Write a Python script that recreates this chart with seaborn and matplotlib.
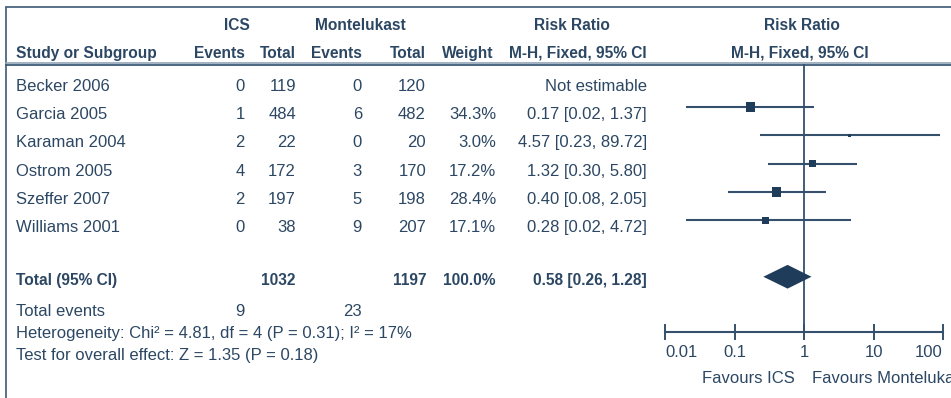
import matplotlib
matplotlib.use("Agg")
import matplotlib.pyplot as plt
from matplotlib import font_manager
import seaborn as sns
import pandas as pd

# ---- data -------------------------------------------------------------
studies = ["Becker 2006", "Garcia 2005", "Karaman 2004", "Ostrom 2005",
           "Szeffer 2007", "Williams 2001"]
ics_events = [0, 1, 2, 4, 2, 0]
ics_total = [119, 484, 22, 172, 197, 38]
mon_events = [0, 6, 0, 3, 5, 9]
mon_total = [120, 482, 20, 170, 198, 207]
weights = [None, 34.3, 3.0, 17.2, 28.4, 17.1]
rr = [None, 0.17, 4.57, 1.32, 0.40, 0.28]
ci_low = [None, 0.02, 0.23, 0.30, 0.08, 0.02]
ci_high = [None, 1.37, 89.72, 5.80, 2.05, 4.72]

total_ics = 1032
total_mon = 1197
total_weight = 100.0
total_rr = 0.58
total_low = 0.26
total_high = 1.28
events_ics = 9
events_mon = 23
heterogeneity = "Heterogeneity: Chi\u00b2 = 4.81, df = 4 (P = 0.31); I\u00b2 = 17%"
overall_effect = "Test for overall effect: Z = 1.35 (P = 0.18)"

axis_ticks = [0.01, 0.1, 1, 10, 100]
axis_tick_labels = ["0.01", "0.1", "1", "10", "100"]
favours_left = "Favours ICS"
favours_right = "Favours Montelukast"

# ---- style ------------------------------------------------------------
sns.set_theme(style="white")
names = {f.name for f in font_manager.fontManager.ttflist}
if "Liberation Sans Narrow" in names:
    FAMILY, FS, FSB = ["Liberation Sans Narrow", "DejaVu Sans"], 14.0, 13.5
else:
    FAMILY, FS, FSB = ["Liberation Sans", "DejaVu Sans"], 12.0, 11.2
plt.rcParams["font.family"] = FAMILY

TEXT = "#2c4763"
LINE = "#34506d"
MARK = "#1f3c5a"

W, H = 951, 398
fig = plt.figure(figsize=(W / 100, H / 100), dpi=100)

# table layer in pixel units
tab = fig.add_axes([0, 0, 1, 1])
tab.set_xlim(0, W)
tab.set_ylim(H, 0)
tab.axis("off")


def txt(x, y, s, ha="right", bold=False):
    tab.text(x, y, s, ha=ha, va="baseline", color=TEXT,
             fontsize=FSB if bold else FS,
             fontweight="bold" if bold else "normal", family=FAMILY)


# frame and header rules
tab.plot([6, W], [6.5, 6.5], color="#4d6680", lw=1.3)
tab.plot([6, 6], [6.5, H], color="#4d6680", lw=1.3)
tab.plot([6, W], [62.5, 62.5], color="#9aabbb", lw=1.3)
tab.plot([6, W], [65, 65], color="#3d5a78", lw=1.3)

# column anchors
X_NAME, X_IE, X_IT, X_ME, X_MT, X_W, X_RR = 16, 245, 296, 362, 426, 496, 647

# headers
txt(237, 30, "ICS", ha="center", bold=True)
txt(360, 30, "Montelukast", ha="center", bold=True)
txt(572, 30, "Risk Ratio", ha="center", bold=True)
txt(802, 30, "Risk Ratio", ha="center", bold=True)
txt(X_NAME, 58, "Study or Subgroup", ha="left", bold=True)
txt(X_IE, 58, "Events", bold=True)
txt(X_IT, 58, "Total", bold=True)
txt(X_ME, 58, "Events", bold=True)
txt(X_MT, 58, "Total", bold=True)
txt(493, 58, "Weight", bold=True)
txt(X_RR, 58, "M-H, Fixed, 95% CI", bold=True)
txt(800, 58, "M-H, Fixed, 95% CI", ha="center", bold=True)

# study rows
for i, name in enumerate(studies):
    yb = 91 + 28.2 * i
    txt(X_NAME, yb, name, ha="left")
    txt(X_IE, yb, str(ics_events[i]))
    txt(X_IT, yb, str(ics_total[i]))
    txt(X_ME, yb, str(mon_events[i]))
    txt(X_MT, yb, str(mon_total[i]))
    if rr[i] is None:
        txt(X_RR, yb, "Not estimable")
    else:
        txt(X_W, yb, f"{weights[i]:.1f}%")
        txt(X_RR, yb, f"{rr[i]:.2f} [{ci_low[i]:.2f}, {ci_high[i]:.2f}]")

# totals
txt(X_NAME, 285, "Total (95% CI)", ha="left", bold=True)
txt(X_IT, 285, str(total_ics), bold=True)
txt(X_MT, 285, str(total_mon), bold=True)
txt(X_W, 285, f"{total_weight:.1f}%", bold=True)
txt(X_RR, 285, f"{total_rr:.2f} [{total_low:.2f}, {total_high:.2f}]", bold=True)
txt(X_NAME, 316, "Total events", ha="left")
txt(X_IE, 316, str(events_ics))
txt(X_ME, 316, str(events_mon))
txt(X_NAME, 338, heterogeneity, ha="left")
txt(X_NAME, 360, overall_effect, ha="left")

# ---- forest panel ------------------------------------------------------
AX_L, AX_R, AX_T, AX_B = 665, 943, 64, 332
ROW0, STEP = 79, 28.25
ax = fig.add_axes([AX_L / W, 1 - AX_B / H, (AX_R - AX_L) / W, (AX_B - AX_T) / H])
ax.set_xscale("log")
ax.set_xlim(axis_ticks[0], axis_ticks[-1])
ax.set_ylim((AX_B - ROW0) / STEP, (AX_T - ROW0) / STEP)
ax.patch.set_alpha(0)

df = pd.DataFrame({"study": studies, "rr": rr, "lo": ci_low, "hi": ci_high,
                   "weight": weights, "row": range(len(studies))}).dropna()

ax.axvline(1, color=LINE, lw=1.3, zorder=1)
ax.hlines(df["row"], df["lo"], df["hi"], color=LINE, lw=1.5, zorder=2)
sns.scatterplot(data=df, x="rr", y="row", size="weight",
                sizes=(0, 34.3 * 1.5), size_norm=(0, 34.3),
                marker="s", color=MARK, linewidth=0, legend=False,
                ax=ax, zorder=3)

total_row = 7
half = 0.42
ax.fill([total_low, total_rr, total_high, total_rr],
        [total_row, total_row - half, total_row, total_row + half],
        color=MARK, lw=0, zorder=3)

for side in ("top", "right", "left"):
    ax.spines[side].set_visible(False)
ax.spines["bottom"].set_color(LINE)
ax.spines["bottom"].set_linewidth(1.5)
ax.set_yticks([])
ax.set_xticks(axis_ticks)
ax.set_xticklabels(axis_tick_labels)
ax.minorticks_off()
ax.tick_params(axis="x", which="major", bottom=True, direction="inout",
               length=11, width=1.4, color=LINE, labelcolor=TEXT,
               labelsize=FS, pad=4)
ax.get_xticklabels()[0].set_ha("left")
ax.get_xticklabels()[-1].set_ha("right")
ax.set_xlabel("")
ax.set_ylabel("")

txt(795, 383, favours_left)
txt(812, 383, favours_right, ha="left")

fig.savefig("out.png", dpi=100)
